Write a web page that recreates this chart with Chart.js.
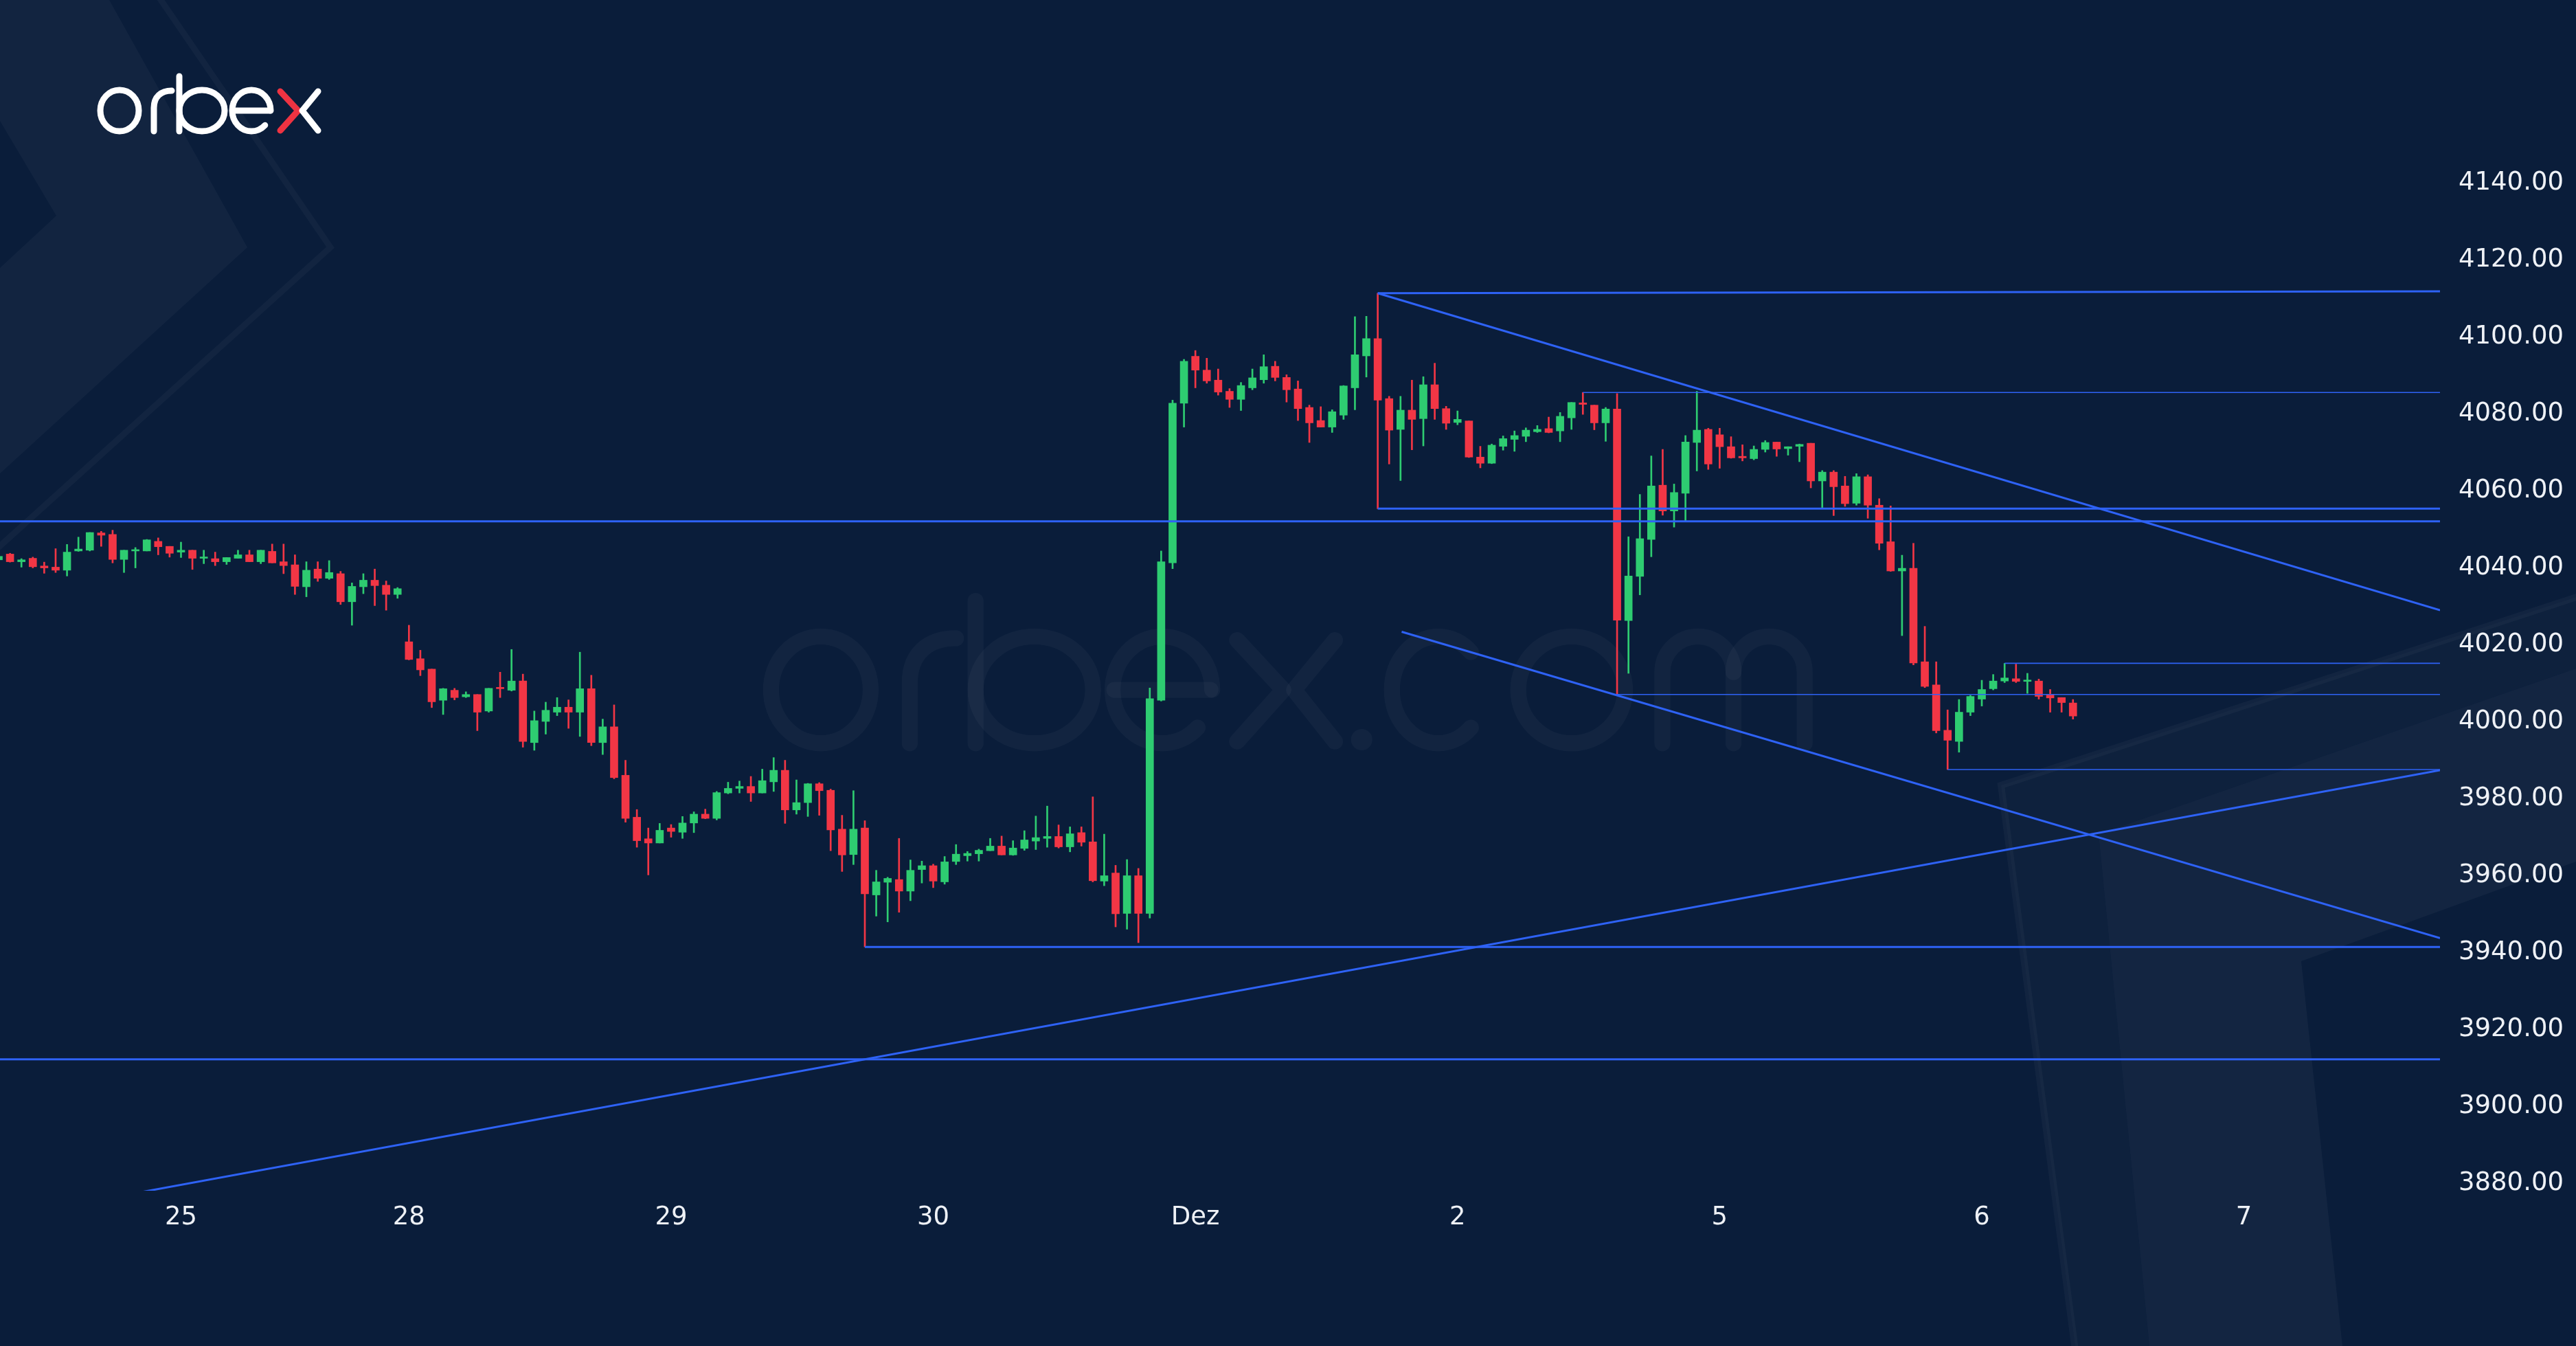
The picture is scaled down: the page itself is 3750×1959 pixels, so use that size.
<!DOCTYPE html>
<html>
<head>
<meta charset="utf-8">
<script src="https://cdn.jsdelivr.net/npm/chart.js@4.4.1/dist/chart.umd.min.js"></script>
<style>
html,body{margin:0;padding:0;background:#0a1d3a;overflow:hidden}
canvas{display:block}
</style>
</head>
<body>
<canvas id="c" width="3750" height="1959"></canvas>
<script>
// ---------------- DATA (hourly candles, index = bar number) ----------------
const opens = [
4041.5,4043.0,4041.0,4041.9,4039.9,4039.6,4038.8,4043.8,4044.0,4048.5,
4048.1,4041.6,4043.8,4043.8,4046.3,4045.0,4043.5,4044.0,4041.9,4041.8,
4041.0,4041.9,4042.8,4041.0,4043.7,4041.0,4040.2,4034.5,4039.1,4036.7,
4037.9,4030.6,4034.5,4036.2,4034.9,4032.5,4020.2,4015.8,4013.1,4005.0,
4007.6,4005.9,4006.5,4002.2,4008.2,4007.6,4010.0,3994.0,3999.5,4001.9,
4003.2,4001.9,4008.0,3994.0,3998.1,3985.5,3974.6,3969.0,3967.9,3971.8,
3970.7,3973.1,3975.4,3974.3,3980.9,3982.1,3982.6,3980.9,3983.8,3986.8,
3976.5,3978.4,3983.3,3981.6,3971.5,3964.9,3971.8,3954.4,3957.7,3958.4,
3955.4,3961.0,3962.0,3957.8,3963.1,3964.6,3965.1,3965.9,3967.1,3964.8,
3966.5,3968.4,3969.1,3969.6,3966.9,3970.6,3968.2,3958.0,3960.1,3949.6,
3959.4,3949.6,4005.0,4040.7,4082.2,4094.4,4090.8,4088.2,4085.3,4083.2,
4086.2,4088.3,4091.8,4088.9,4085.9,4081.1,4077.7,4076.0,4079.1,4086.2,
4094.5,4099.0,4083.4,4075.4,4080.4,4078.2,4087.0,4080.8,4077.2,4077.6,
4068.2,4066.6,4071.0,4072.8,4073.6,4074.8,4075.6,4075.0,4078.4,4082.3,
4081.7,4077.1,4080.7,4025.7,4037.2,4046.8,4060.9,4054.2,4058.8,4072.0,
4075.4,4074.0,4070.9,4068.4,4067.8,4070.2,4072.1,4070.4,4071.0,4071.8,
4062.0,4064.3,4060.7,4056.2,4063.1,4055.7,4046.2,4038.6,4039.3,4015.0,
4009.0,3997.2,3994.3,4001.9,4005.3,4008.0,4010.0,4010.6,4009.9,4010.0,
4006.5,4005.7,4004.3
];
const highs = [
4043.8,4043.2,4041.8,4042.2,4040.9,4044.4,4045.5,4047.4,4048.6,4048.9,
4049.2,4044.0,4044.7,4046.8,4047.2,4045.0,4046.1,4044.0,4044.0,4043.5,
4042.1,4044.0,4044.0,4044.0,4045.6,4045.6,4042.8,4041.0,4041.0,4041.3,
4038.5,4035.5,4037.9,4039.1,4036.0,4034.3,4024.5,4018.0,4013.1,4008.1,
4008.1,4007.2,4006.5,4008.1,4012.3,4018.2,4011.8,4002.2,4004.5,4005.7,
4005.1,4017.5,4011.5,4000.1,4003.8,3989.4,3976.6,3971.8,3973.0,3972.7,
3974.8,3976.0,3976.7,3981.3,3983.7,3984.0,3985.2,3987.1,3990.1,3989.4,
3984.3,3983.4,3983.6,3981.9,3975.1,3981.5,3973.7,3960.8,3959.0,3969.1,
3963.5,3963.2,3962.4,3964.4,3967.5,3965.7,3966.3,3969.1,3969.7,3968.5,
3971.1,3974.9,3977.5,3972.6,3972.1,3972.1,3979.9,3970.2,3962.1,3963.6,
3961.3,4008.2,4043.8,4083.0,4093.6,4095.9,4093.9,4091.1,4086.0,4087.6,
4091.1,4094.8,4093.1,4089.6,4088.0,4081.7,4081.3,4080.5,4086.8,4104.7,
4104.8,4110.8,4084.0,4084.0,4088.2,4089.1,4092.6,4081.4,4080.2,4077.6,
4071.0,4071.6,4073.7,4075.0,4075.8,4076.4,4078.6,4079.8,4082.4,4085.0,
4081.7,4081.1,4084.7,4047.5,4058.5,4068.5,4070.2,4061.2,4073.8,4085.3,
4075.7,4075.7,4073.5,4071.4,4071.1,4072.5,4072.1,4070.9,4071.6,4071.8,
4064.7,4064.7,4063.2,4063.9,4063.6,4057.4,4055.5,4042.7,4045.8,4024.2,
4015.0,4002.5,4005.2,4006.3,4010.2,4011.7,4014.6,4014.4,4012.0,4010.5,
4007.8,4005.7,4005.2
];
const lows = [
4040.3,4040.9,4039.6,4039.4,4038.0,4038.2,4037.3,4043.7,4043.8,4045.0,
4040.7,4038.2,4039.4,4043.8,4042.8,4042.2,4042.1,4039.0,4040.5,4040.0,
4040.3,4041.9,4041.0,4040.5,4040.7,4037.9,4032.5,4031.9,4035.9,4036.4,
4029.9,4024.5,4032.7,4029.6,4028.4,4031.5,4015.5,4011.4,4003.1,4001.3,
4005.1,4005.7,3997.1,4001.9,4005.7,4007.4,3992.8,3992.0,3996.2,4001.0,
3997.7,3995.6,3993.2,3990.9,3984.6,3973.3,3966.8,3959.6,3967.9,3969.4,
3969.1,3970.6,3974.2,3973.9,3980.7,3980.9,3978.7,3980.9,3981.3,3973.0,
3975.4,3974.8,3975.1,3965.9,3960.5,3962.3,3940.9,3948.9,3947.4,3949.9,
3952.9,3957.5,3956.3,3957.2,3962.3,3963.2,3963.2,3965.9,3964.8,3964.7,
3966.0,3966.2,3966.8,3966.6,3965.6,3967.1,3957.8,3956.8,3946.1,3945.5,
3942.0,3948.4,4004.8,4039.2,4076.0,4086.2,4087.4,4084.3,4081.1,4080.3,
4085.7,4087.4,4088.0,4082.5,4077.7,4072.0,4076.0,4074.6,4078.0,4080.5,
4089.0,4054.8,4066.4,4062.1,4070.1,4071.1,4078.0,4075.4,4076.6,4068.1,
4065.4,4066.5,4070.0,4069.7,4072.2,4074.6,4074.5,4072.2,4075.4,4079.3,
4075.3,4072.3,4006.5,4012.0,4032.4,4042.3,4053.1,4050.0,4051.4,4064.6,
4065.0,4065.3,4067.9,4067.2,4067.5,4069.5,4068.4,4068.7,4067.0,4060.2,
4055.0,4053.0,4055.4,4055.7,4052.3,4044.1,4038.5,4021.8,4014.2,4008.3,
3996.5,3987.0,3991.5,4001.0,4003.5,4007.7,4009.6,4009.6,4006.8,4005.3,
4001.9,4001.9,4000.1
];
const closes = [
4042.4,4041.0,4041.5,4039.7,4039.4,4038.8,4043.5,4044.3,4048.6,4047.9,
4041.6,4044.0,4044.0,4046.7,4044.9,4043.2,4044.0,4041.9,4042.2,4041.0,
4042.1,4042.8,4041.0,4044.0,4040.7,4040.0,4034.6,4038.8,4036.7,4038.2,
4030.6,4034.6,4036.2,4034.8,4032.5,4034.0,4015.6,4012.9,4004.6,4008.0,
4005.7,4006.5,4001.9,4008.1,4008.0,4010.0,3994.3,3999.7,4002.4,4003.2,
4001.9,4008.0,3994.0,3998.1,3984.9,3974.3,3968.5,3967.9,3971.2,3970.9,
3973.1,3975.4,3974.3,3981.0,3982.1,3982.6,3980.9,3984.1,3986.8,3976.5,
3978.4,3983.3,3981.5,3971.3,3964.8,3971.5,3954.7,3957.8,3958.7,3955.4,
3960.8,3962.0,3958.0,3963.0,3965.0,3965.2,3966.0,3967.1,3964.8,3966.6,
3968.7,3969.3,3969.6,3966.9,3970.3,3968.1,3958.1,3959.4,3949.5,3959.4,
3949.6,4005.4,4041.0,4082.2,4093.1,4090.8,4088.0,4085.1,4083.2,4086.8,
4088.8,4091.7,4088.9,4085.7,4080.8,4077.1,4076.0,4080.0,4086.7,4094.8,
4099.0,4083.0,4075.2,4080.4,4078.0,4087.0,4080.8,4077.0,4078.0,4068.2,
4066.6,4071.3,4073.0,4073.8,4075.2,4075.4,4074.6,4078.8,4082.4,4081.9,
4077.1,4080.7,4025.8,4037.3,4047.0,4060.7,4054.2,4059.0,4072.1,4075.2,
4066.4,4070.9,4068.0,4068.0,4070.2,4072.0,4070.3,4070.9,4071.5,4062.0,
4064.3,4060.5,4056.1,4063.1,4055.7,4045.8,4038.6,4039.3,4014.7,4008.6,
3997.1,3994.6,4001.9,4006.0,4007.8,4010.0,4010.8,4009.9,4010.1,4006.0,
4005.6,4004.4,4000.9
];

// x-axis: bar index where each day label sits
const xTickIdx    = [16, 36, 59, 82, 105, 128, 151, 174, 197];
const xTickLabels = ['25', '28', '29', '30', 'Dez', '2', '5', '6', '7'];
// y-axis tick values
const yTicks = [3880, 3900, 3920, 3940, 3960, 3980, 4000, 4020, 4040, 4060, 4080, 4100, 4120, 4140];

// drawn trend / level lines: [barFrom, priceFrom, barTo, priceTo]
const heavyLines = [
  [-1, 4051.5, 214.2, 4051.5],
  [-1, 3911.7, 214.2, 3911.7],
  [10, 3875.8, 214.2, 3986.8],
  [121, 4110.8, 214.2, 4028.4],
  [121, 4110.8, 214.2, 4111.3],
  [121, 4054.8, 214.2, 4054.8],
  [123.1, 4022.8, 214.2, 3943.2],
  [76, 3940.9, 214.2, 3940.9]
];
const lightLines = [
  [139, 4085.0, 214.2, 4085.0],
  [142, 4006.5, 214.2, 4006.5],
  [176, 4014.6, 214.2, 4014.6],
  [171, 3987.0, 214.2, 3987.0]
];

// ---------------- LAYOUT / STYLE ----------------
const W = 3750, H = 1959;
const PLOT_RIGHT = 3552, PLOT_BOTTOM = 1733;
const X_MIN = 0.12, X_MAX = 214.2;
const Y_MAX = 4187.0, Y_MIN = 3877.53;
const BG = '#0a1d3a';
const GREEN = '#2ecc71', RED = '#f23645', BLUE = '#2e62f5';
const TXT = '#eef1f6';
const FONT = 'DejaVu Sans';

const idx = opens.map((_, i) => i);
const candleColors = idx.map(i => closes[i] >= opens[i] ? GREEN : RED);

const datasets = [];
lightLines.concat(heavyLines).forEach((s, k) => {
  const heavy = k >= lightLines.length;
  datasets.push({
    type: 'line',
    data: [{x: s[0], y: s[1]}, {x: s[2], y: s[3]}],
    borderColor: BLUE,
    borderWidth: heavy ? 3 : 1.6,
    pointRadius: 0, fill: false, tension: 0, order: 0
  });
});
datasets.push({
  type: 'bar',
  data: idx.map(i => ({x: i, y: [opens[i], closes[i]]})),
  backgroundColor: candleColors, borderWidth: 0,
  barThickness: 11, minBarLength: 2, grouped: false, order: 1
});
datasets.push({
  type: 'bar',
  data: idx.map(i => ({x: i, y: [lows[i], highs[i]]})),
  backgroundColor: candleColors, borderWidth: 0,
  barThickness: 2, grouped: false, order: 2
});

// ---------------- DECORATION ----------------
function poly(c, pts) {
  c.beginPath();
  pts.forEach((p, i) => i ? c.lineTo(p[0], p[1]) : c.moveTo(p[0], p[1]));
  c.closePath();
}
function drawMark(c, ox, oy, s, white, red, lw, withCom) {
  c.save();
  c.translate(ox, oy); c.scale(s, s);
  c.lineWidth = lw; c.lineCap = 'round'; c.lineJoin = 'round';
  c.strokeStyle = white; c.fillStyle = white;
  c.beginPath(); c.ellipse(32, 34, 28, 30, 0, 0, Math.PI * 2); c.stroke();          // o
  c.beginPath(); c.moveTo(82, 64); c.lineTo(82, 30);
  c.bezierCurveTo(82, 14, 92, 5, 108, 5); c.stroke();                                  // r
  c.beginPath(); c.moveTo(119, -16); c.lineTo(119, 64); c.stroke();                    // b stem
  c.beginPath(); c.ellipse(152, 34, 33, 30, 0, 0, Math.PI * 2); c.stroke();          // b bowl
  c.beginPath(); c.moveTo(197, 34); c.lineTo(251, 34); c.stroke();                    // e bar
  c.beginPath(); c.ellipse(224, 34, 28, 30, 0, 0, Math.PI * 0.25, true); c.stroke(); // e arc
  c.strokeStyle = red;
  c.beginPath(); c.moveTo(266, 6); c.lineTo(292, 34); c.lineTo(266, 63); c.stroke();  // x left
  c.strokeStyle = white;
  c.beginPath(); c.moveTo(321, 6); c.lineTo(298, 34); c.lineTo(321, 63); c.stroke();  // x right
  if (withCom) {
    c.beginPath(); c.arc(336, 62, 6, 0, Math.PI * 2); c.fill();                       // .
    c.beginPath(); c.ellipse(379, 34, 26, 30, 0, -Math.PI * 0.25, Math.PI * 0.25, true); c.stroke(); // c
    c.beginPath(); c.ellipse(454, 34, 30, 30, 0, 0, Math.PI * 2); c.stroke();         // o
    c.beginPath(); c.moveTo(505, 64); c.lineTo(505, 24);
    c.arc(525, 24, 20, Math.PI, Math.PI * 2); c.lineTo(545, 64); c.stroke();           // m
    c.beginPath(); c.moveTo(545, 24);
    c.arc(565, 24, 20, Math.PI, Math.PI * 2); c.lineTo(585, 64); c.stroke();
  }
  c.restore();
}

const decoPlugin = {
  id: 'deco',
  beforeDraw(chart) {
    const c = chart.ctx;
    c.save();
    c.fillStyle = BG; c.fillRect(0, 0, W, H);
    // top-left chevrons
    c.fillStyle = 'rgba(255,255,255,0.035)';
    poly(c, [[0,0],[159,0],[360,360],[0,689],[0,390],[82,314],[0,176]]); c.fill();
    c.strokeStyle = 'rgba(255,255,255,0.035)'; c.lineWidth = 9;
    c.beginPath(); c.moveTo(230, -6); c.lineTo(481, 360); c.lineTo(-6, 800); c.stroke();
    // bottom-right chevrons
    c.fillStyle = 'rgba(255,255,255,0.018)';
    poly(c, [[3750,869],[2913,1143],[3021,1959],[3129,1959],[3055,1214],[3750,973]]); c.fill();
    c.fillStyle = 'rgba(255,255,255,0.04)';
    poly(c, [[3750,973],[3055,1214],[3129,1959],[3410,1959],[3350,1399],[3750,1254]]); c.fill();
    c.strokeStyle = 'rgba(255,255,255,0.035)'; c.lineWidth = 10;
    c.beginPath(); c.moveTo(3760, 866); c.lineTo(2913, 1143); c.lineTo(3021, 1965); c.stroke();
    // watermark
    drawMark(c, 1112, 916, 2.59, 'rgba(255,255,255,0.035)', 'rgba(255,255,255,0.035)', 9, true);
    // logo
    drawMark(c, 142, 127, 1, '#ffffff', '#ee3342', 9, false);
    c.restore();
  }
};

// ---------------- CHART ----------------
Chart.defaults.font.family = FONT;
new Chart(document.getElementById('c').getContext('2d'), {
  type: 'bar',
  data: { datasets },
  options: {
    responsive: false, animation: false, devicePixelRatio: 1,
    layout: { padding: 0 },
    plugins: { legend: { display: false }, tooltip: { enabled: false } },
    scales: {
      x: {
        type: 'linear', min: X_MIN, max: X_MAX, offset: false,
        grid: { display: false, drawTicks: false }, border: { display: false },
        ticks: {
          color: TXT, font: { size: 37 }, padding: 17, autoSkip: false, maxRotation: 0,
          callback: v => { const k = xTickIdx.indexOf(v); return k >= 0 ? xTickLabels[k] : ''; }
        },
        afterBuildTicks: s => { s.ticks = xTickIdx.map(v => ({ value: v })); },
        afterFit: s => { s.height = H - PLOT_BOTTOM; s.paddingLeft = 0; s.paddingRight = 0; }
      },
      y: {
        type: 'linear', position: 'right', min: Y_MIN, max: Y_MAX,
        grid: { display: false, drawTicks: false }, border: { display: false },
        ticks: { color: TXT, font: { size: 37 }, padding: 27, labelOffset: 3,
                 callback: v => Number(v).toFixed(2) },
        afterBuildTicks: s => { s.ticks = yTicks.map(v => ({ value: v })); },
        afterFit: s => { s.width = W - PLOT_RIGHT; s.paddingTop = 0; s.paddingBottom = 0; }
      }
    }
  },
  plugins: [decoPlugin]
});
</script>
</body>
</html>
